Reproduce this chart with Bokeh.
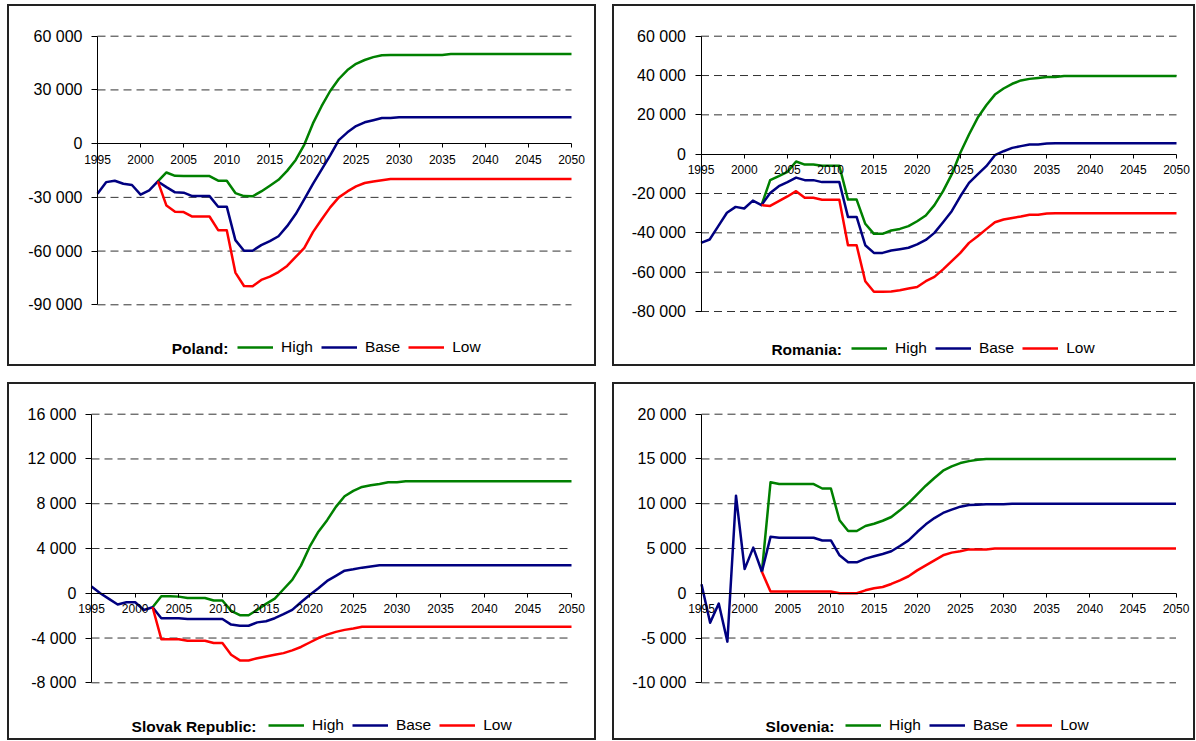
from bokeh.plotting import figure
from bokeh.models import Range1d, FixedTicker, Legend, LegendItem, Label
from bokeh.layouts import row, column
from bokeh.embed import file_html
from bokeh.resources import INLINE

# ---------------- data ----------------
years = list(range(1995, 2051))
proj_years = list(range(2002, 2051))
x_ticks = [1995, 2000, 2005, 2010, 2015, 2020, 2025, 2030, 2035, 2040, 2045, 2050]
x_labels = ["1995", "2000", "2005", "2010", "2015", "2020", "2025", "2030", "2035", "2040", "2045", "2050"]
series_names = ["High", "Base", "Low"]

poland_name = "Poland:"
poland_yticks = [-90000, -60000, -30000, 0, 30000, 60000]
poland_ylabels = ["-90 000", "-60 000", "-30 000", "0", "30 000", "60 000"]
poland_base = [-28000, -21500, -20700, -22400, -23100, -28500, -26100, -21100,
               -24300, -27200, -27400, -29300, -29300, -29300, -35200, -35200,
               -53900, -59800, -59800, -56700, -54400, -51700, -46100, -39300,
               -31000, -22500, -14500, -6500, 2000, 6300, 9800, 11900,
               13100, 14300, 14300, 14800, 14800, 14800, 14800, 14800,
               14800, 14800, 14800, 14800, 14800, 14800, 14800, 14800,
               14800, 14800, 14800, 14800, 14800, 14800, 14800, 14800]
poland_high = [-21100, -16100, -18000, -18100, -18100, -18100, -18100, -20700, -20700, -27600,
               -29300, -29400, -26700, -23500, -20200, -15200, -9100, -500, 11300, 20900,
               29400, 36100, 41100, 44600, 46700, 48300, 49400, 49500, 49500, 49500,
               49500, 49500, 49500, 49500, 50000, 50000, 50000, 50000, 50000, 50000,
               50000, 50000, 50000, 50000, 50000, 50000, 50000, 50000, 50000]
poland_low = [-21100, -34600, -38000, -38200, -40700, -40700, -40700, -48300, -48300, -72000,
              -79500, -79600, -76100, -74300, -71700, -68300, -63300, -58200, -49400, -42400,
              -35600, -30000, -26700, -23900, -22000, -21100, -20400, -19800, -19800, -19800,
              -19800, -19800, -19800, -19800, -19800, -19800, -19800, -19800, -19800, -19800,
              -19800, -19800, -19800, -19800, -19800, -19800, -19800, -19800, -19800]

romania_name = "Romania:"
romania_yticks = [-80000, -60000, -40000, -20000, 0, 20000, 40000, 60000]
romania_ylabels = ["-80 000", "-60 000", "-40 000", "-20 000", "0", "20 000", "40 000", "60 000"]
romania_base = [-45100, -43400, -36600, -29800, -26800, -27600, -23600, -25900,
                -19700, -16300, -14200, -11900, -13200, -13200, -14200, -14200,
                -14200, -31900, -31900, -46300, -50200, -50200, -49000, -48300,
                -47600, -45900, -43600, -40000, -34600, -29000, -21400, -14600,
                -10300, -6100, -500, 1500, 3200, 4100, 4900, 4900,
                5400, 5500, 5500, 5500, 5500, 5500, 5500, 5500,
                5500, 5500, 5500, 5500, 5500, 5500, 5500, 5500]
romania_high = [-25900, -13200, -11200, -9000, -3700, -5300, -5300, -5900, -5900, -5900,
                -23100, -23100, -35400, -40500, -40500, -38800, -38000, -36600, -34100, -31200,
                -25900, -18800, -10300, 700, 10000, 18500, 24900, 30300, 33400, 35800,
                37500, 38300, 38800, 39300, 39300, 39800, 39800, 39800, 39800, 39800,
                39800, 39800, 39800, 39800, 39800, 39800, 39800, 39800, 39800]
romania_low = [-25900, -26300, -23900, -21500, -18800, -22200, -22200, -23200, -23200, -23200,
               -46300, -46300, -64600, -70000, -70000, -69800, -69200, -68300, -67500, -64600,
               -62400, -58600, -54400, -50200, -45100, -41700, -38100, -34600, -33200, -32400,
               -31700, -30800, -30800, -30200, -30000, -30000, -30000, -30000, -30000, -30000,
               -30000, -30000, -30000, -30000, -30000, -30000, -30000, -30000, -30000]

slovak_name = "Slovak Republic:"
slovak_yticks = [-8000, -4000, 0, 4000, 8000, 12000, 16000]
slovak_ylabels = ["-8 000", "-4 000", "0", "4 000", "8 000", "12 000", "16 000"]
slovak_base = [600, 0, -500, -1000, -800, -800, -1500, -1250,
               -2230, -2230, -2230, -2300, -2300, -2300, -2300, -2300,
               -2800, -2900, -2900, -2600, -2500, -2230, -1870, -1480,
               -800, -150, 450, 1100, 1550, 2020, 2140, 2290,
               2400, 2500, 2500, 2500, 2500, 2500, 2500, 2500,
               2500, 2500, 2500, 2500, 2500, 2500, 2500, 2500,
               2500, 2500, 2500, 2500, 2500, 2500, 2500, 2500]
slovak_high = [-1250, -270, -270, -300, -420, -420, -420, -650, -650, -1570,
               -1960, -1960, -1480, -950, -475, 360, 1190, 2470, 4160, 5500,
               6530, 7720, 8670, 9150, 9500, 9650, 9770, 9920, 9920, 10000,
               10000, 10000, 10000, 10000, 10000, 10000, 10000, 10000, 10000, 10000,
               10000, 10000, 10000, 10000, 10000, 10000, 10000, 10000, 10000]
slovak_low = [-1250, -4100, -4100, -4100, -4250, -4250, -4250, -4450, -4450, -5500,
              -6000, -6000, -5800, -5650, -5500, -5350, -5100, -4800, -4400, -4000,
              -3700, -3450, -3270, -3150, -3000, -3000, -3000, -3000, -3000, -3000,
              -3000, -3000, -3000, -3000, -3000, -3000, -3000, -3000, -3000, -3000,
              -3000, -3000, -3000, -3000, -3000, -3000, -3000, -3000, -3000]

slovenia_name = "Slovenia:"
slovenia_yticks = [-10000, -5000, 0, 5000, 10000, 15000, 20000]
slovenia_ylabels = ["-10 000", "-5 000", "0", "5 000", "10 000", "15 000", "20 000"]
slovenia_base = [1000, -3300, -1150, -5400, 10900, 2700, 5100, 2400,
                 6300, 6200, 6200, 6200, 6200, 6200, 5900, 5900,
                 4240, 3460, 3460, 3870, 4130, 4390, 4690, 5280,
                 5910, 6840, 7700, 8400, 8970, 9340, 9670, 9860,
                 9900, 9950, 9950, 9950, 10000, 10000, 10000, 10000,
                 10000, 10000, 10000, 10000, 10000, 10000, 10000, 10000,
                 10000, 10000, 10000, 10000, 10000, 10000, 10000, 10000]
slovenia_high = [2400, 12400, 12200, 12200, 12200, 12200, 12200, 11700, 11700, 8150,
                 6950, 6950, 7510, 7770, 8100, 8520, 9260, 10080, 11050, 12010,
                 12870, 13690, 14170, 14540, 14760, 14900, 15000, 15000, 15000, 15000,
                 15000, 15000, 15000, 15000, 15000, 15000, 15000, 15000, 15000, 15000,
                 15000, 15000, 15000, 15000, 15000, 15000, 15000, 15000, 15000]
slovenia_low = [2400, 200, 200, 200, 200, 200, 200, 200, 200, 0,
                0, 0, 330, 550, 700, 1040, 1450, 1900, 2560, 3120,
                3680, 4240, 4540, 4690, 4900, 4900, 4900, 5000, 5000, 5000,
                5000, 5000, 5000, 5000, 5000, 5000, 5000, 5000, 5000, 5000,
                5000, 5000, 5000, 5000, 5000, 5000, 5000, 5000, 5000]

# ---------------- styling ----------------
GREEN, BLUE, RED = "#008000", "#000080", "#FF0000"
FONT = "Liberation Sans"
ORIGIN = (7, 4)   # page position of the top-left panel


def panel(name, yticks, ylabels, base, high, low, canvas, xpix, ypix, legend_px, title_px):
    """canvas = (left, top, width, height) in page px; xpix = page x of first/last year;
    ypix = page y of top/bottom tick; legend_px = (first glyph x, centre y); title_px = (right x, centre y)."""
    cx, cy, cw, ch = canvas
    x0, x1 = years[0], years[-1]
    ytop, ybot = yticks[-1], yticks[0]
    sx = (xpix[1] - xpix[0]) / (x1 - x0)
    sy = (ypix[1] - ypix[0]) / (ytop - ybot)
    xr = Range1d(x0 - (xpix[0] - cx) / sx, x1 + (cx + cw - xpix[1]) / sx)
    yr = Range1d(ybot - (cy + ch - ypix[1]) / sy, ytop + (ypix[0] - cy) / sy)

    p = figure(width=cw, height=ch, x_range=xr, y_range=yr,
               output_backend="svg", toolbar_location=None,
               min_border_left=0, min_border_right=0, min_border_top=0, min_border_bottom=0)
    p.background_fill_color = "white"
    p.border_fill_color = "white"
    p.outline_line_color = "#222222"
    p.outline_line_width = 3
    p.xgrid.visible = False
    p.ygrid.visible = False

    xa = p.xaxis[0]
    xa.fixed_location = 0
    xa.bounds = (x0, x1)
    xa.ticker = FixedTicker(ticks=x_ticks)
    xa.major_label_overrides = {t: s for t, s in zip(x_ticks, x_labels)}
    xa.major_tick_in = 0
    xa.major_tick_out = 4
    xa.minor_tick_in = 0
    xa.minor_tick_out = 0
    xa.axis_line_color = "black"
    xa.major_tick_line_color = "black"
    xa.major_label_text_font = FONT
    xa.major_label_text_font_size = "12px"
    xa.major_label_text_color = "black"
    xa.major_label_standoff = 7

    ya = p.yaxis[0]
    ya.fixed_location = x0
    ya.bounds = (ybot, ytop)
    ya.ticker = FixedTicker(ticks=yticks)
    ya.major_label_overrides = {t: s for t, s in zip(yticks, ylabels)}
    ya.major_tick_in = 0
    ya.major_tick_out = 6
    ya.minor_tick_in = 0
    ya.minor_tick_out = 0
    ya.axis_line_color = "black"
    ya.major_tick_line_color = "black"
    ya.major_label_text_font = FONT
    ya.major_label_text_font_size = "16px"
    ya.major_label_text_color = "black"
    ya.major_label_standoff = 9

    grid_ticks = [t for t in yticks if t != 0]
    p.segment(x0=x0, x1=x1, y0=grid_ticks, y1=grid_ticks,
              line_color="#333333", line_width=1, line_dash="8 5")

    rh = p.line(proj_years, high, line_color=GREEN, line_width=2.5, line_join="round")
    rb = p.line(years, base, line_color=BLUE, line_width=2.5, line_join="round")
    rl = p.line(proj_years, low, line_color=RED, line_width=2.5, line_join="round")

    lh = 16
    leg = Legend(items=[LegendItem(label=series_names[0], renderers=[rh]),
                        LegendItem(label=series_names[1], renderers=[rb]),
                        LegendItem(label=series_names[2], renderers=[rl])],
                 orientation="horizontal",
                 location=(legend_px[0] - cx, (cy + ch) - (legend_px[1] + lh / 2)),
                 padding=0, margin=0, spacing=8, label_standoff=8,
                 glyph_width=36, glyph_height=lh, label_height=lh,
                 border_line_color=None, background_fill_alpha=0,
                 label_text_font=FONT, label_text_font_size="15.5px",
                 label_text_color="black")
    p.add_layout(leg)

    p.add_layout(Label(x=x0, y=ybot, x_offset=title_px[0] - xpix[0],
                       y_offset=-(title_px[1] - ypix[1]),
                       text=name, text_font=FONT, text_font_size="15.5px",
                       text_font_style="bold", text_align="right",
                       text_baseline="middle", text_color="black"))
    return p


p1 = panel(poland_name, poland_yticks, poland_ylabels, poland_base, poland_high, poland_low,
           (7, 4, 589, 362), (97, 571), (35.7, 304.3), (237, 348), (228, 348))
p2 = panel(romania_name, romania_yticks, romania_ylabels, romania_base, romania_high, romania_low,
           (612, 4, 583, 362), (700.5, 1176), (35.7, 311), (851, 349), (841.5, 349))
p3 = panel(slovak_name, slovak_yticks, slovak_ylabels, slovak_base, slovak_high, slovak_low,
           (7, 382, 589, 358), (91, 571), (413.7, 682.3), (268, 726), (256, 726))
p4 = panel(slovenia_name, slovenia_yticks, slovenia_ylabels, slovenia_base, slovenia_high, slovenia_low,
           (612, 382, 583, 358), (701, 1175.5), (413.7, 682.3), (845, 726), (834, 726))

layout = column(row(p1, p2, spacing=16), row(p3, p4, spacing=16), spacing=16,
                margin=(ORIGIN[1], 0, 0, ORIGIN[0]))

open("out.html", "w").write(file_html(layout, INLINE))
